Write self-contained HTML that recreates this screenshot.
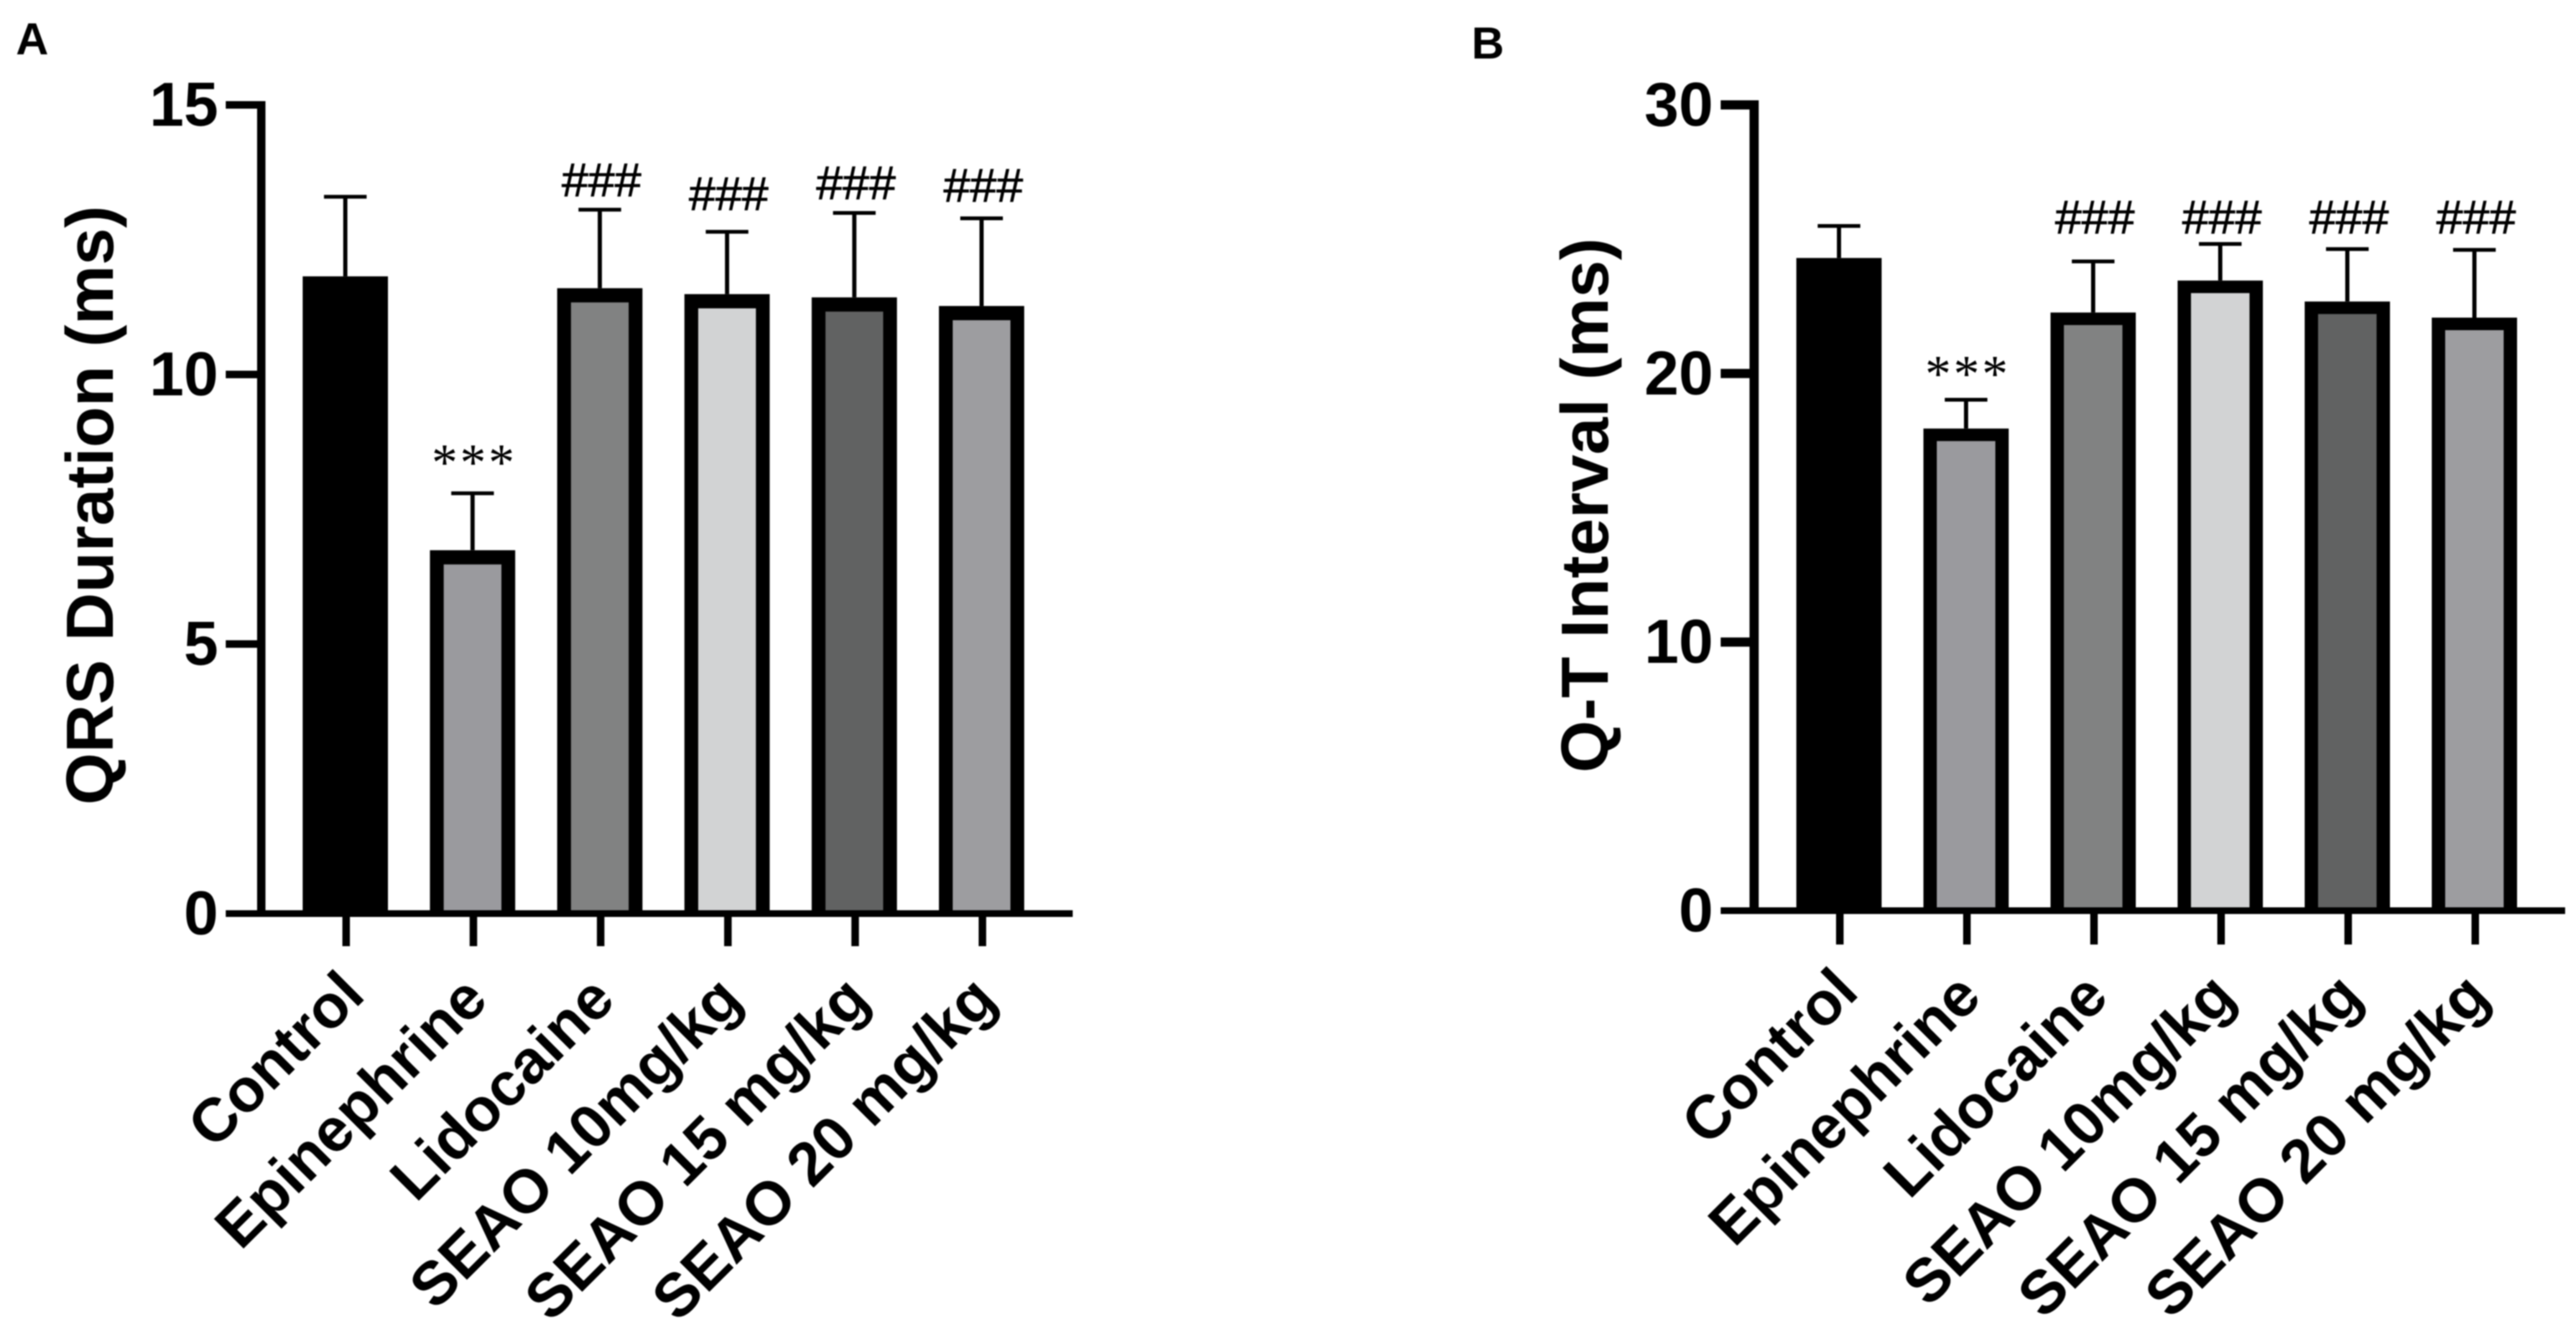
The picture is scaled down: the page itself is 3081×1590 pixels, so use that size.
<!DOCTYPE html>
<html lang="en">
<head>
<meta charset="utf-8">
<title>QRS Duration and Q-T Interval</title>
<style>
  html, body { margin: 0; padding: 0; background: #fff; }
  #figure { display: block; width: 3081px; height: 1590px; filter: blur(0.7px); }
  text { font-family: "Liberation Sans", sans-serif; fill: #000; }
  .tick-label { font-size: 74px; font-weight: 700; text-anchor: end; }
  .axis-title { font-size: 80px; font-weight: 700; text-anchor: middle; }
  .cat-label { font-size: 73px; font-weight: 700; text-anchor: end; }
  .panel-label { font-size: 54px; font-weight: 700; }
  .sig-hash { font-size: 57px; text-anchor: middle; stroke: #000; stroke-width: 0.8px; }
  .sig-star { font-size: 62px; letter-spacing: 3px; text-anchor: middle; font-family: "Liberation Serif", serif; }
</style>
</head>
<body>
<svg id="figure" xmlns="http://www.w3.org/2000/svg" width="3081" height="1590" viewBox="0 0 3081 1590">
  <rect width="3081" height="1590" fill="#fff"/>
  <text class="panel-label" x="19" y="65">A</text>
  <text class="panel-label" x="1760" y="70">B</text>
  <g id="panel-a"></g>
  <g id="panel-b"></g>
</svg>
<script>
const categories = ["Control", "Epinephrine", "Lidocaine", "SEAO 10mg/kg", "SEAO 15 mg/kg", "SEAO 20 mg/kg"];
const significance = ["", "***", "###", "###", "###", "###"];

const qrsMeans = [11.82, 6.74, 11.6, 11.49, 11.43, 11.27];
const qrsErrors = [1.48, 1.06, 1.46, 1.16, 1.57, 1.63];
const qrsSigLevels = [0, 8.05, 13.3, 13.05, 13.25, 13.2];
const qrsTicks = [0, 5, 10, 15];

const qtMeans = [24.3, 17.95, 22.27, 23.46, 22.68, 22.08];
const qtErrors = [1.2, 1.08, 1.91, 1.37, 1.96, 2.53];
const qtSigLevels = [0, 19.34, 25.2, 25.2, 25.2, 25.2];
const qtTicks = [0, 10, 20, 30];

const barFills = ["#000000", "#9a9a9e", "#818282", "#d2d3d4", "#616262", "#9d9da0"];
const NS = "http://www.w3.org/2000/svg";

function make(parent, tag, attrs, content) {
  const el = document.createElementNS(NS, tag);
  for (const key in attrs) el.setAttribute(key, attrs[key]);
  if (content !== undefined) el.textContent = content;
  parent.appendChild(el);
  return el;
}

function drawChart(opts) {
  const root = document.getElementById(opts.id);
  const yMax = opts.ticks[opts.ticks.length - 1];
  const y = v => opts.y0 + (opts.yTop - opts.y0) * (v / yMax);
  const x = i => opts.x0 + i * opts.step;
  const barW = 102;

  opts.means.forEach((mean, i) => {
    const top = y(mean);
    const outer = make(root, "rect", { x: x(i) - barW / 2, y: top, width: barW, height: opts.y0 - top, fill: "#000" });
    
    
    if (i > 0) {
      const inner = make(root, "rect", { x: x(i) - barW / 2 + opts.inset, y: top + opts.insetTop, width: barW - 2 * opts.inset, height: opts.y0 - top - opts.insetTop, fill: barFills[i] });
      
      
    }
    const capY = y(mean + opts.errors[i]);
    const stem = make(root, "rect", { x: x(i) - 2.5, y: capY, width: 5, height: top - capY, fill: "#000" });
    
    
    const cap = make(root, "rect", { x: x(i) - 25.5, y: capY - 2, width: 51, height: 4.5, fill: "#000" });
    
    
    if (significance[i]) {
      const mark = make(root, "text", { x: x(i) + 2, y: y(opts.sigLevels[i]), class: significance[i] === "***" ? "sig-star" : "sig-hash" }, significance[i]);
      
      
    }
    const tick = make(root, "rect", { x: x(i) + 1 - 4.5, y: opts.y0, width: 9, height: opts.tickBottom - opts.y0, fill: "#000" });
    
    
    const lx = x(i) + (i === 0 ? 26 : 21);
    const ly = opts.y0 + (i === 0 ? 100 : 106);
    const label = make(root, "text", { class: "cat-label", x: lx, y: ly, transform: "rotate(-45 " + lx + " " + ly + ")" }, categories[i]);
    
    
  });

  const yAxis = make(root, "rect", { x: opts.axisX - opts.axisW / 2, y: opts.yTop - opts.tickTh / 2, width: opts.axisW, height: opts.y0 - opts.yTop + opts.tickTh / 2, fill: "#000" });
  
  
  const xAxis = make(root, "rect", { x: opts.tickLeft, y: opts.y0 - 4, width: opts.axisRight - opts.tickLeft, height: 8, fill: "#000" });
  
  

  opts.ticks.forEach(t => {
    const ty = y(t);
    if (t !== 0) {
      const mark = make(root, "rect", { x: opts.tickLeft, y: ty - opts.tickTh / 2, width: opts.axisX - opts.tickLeft, height: opts.tickTh, fill: "#000" });
      
      
    }
    const lab = make(root, "text", { class: "tick-label", x: opts.tickLeft - 9, y: ty + 25 }, String(t));
    
    
  });

  const title = make(root, "text", { class: "axis-title", x: 0, y: 0, transform: "translate(" + opts.titleX + " 604.5) rotate(-90)", textLength: opts.titleLen, lengthAdjust: "spacingAndGlyphs" }, opts.title);
  
  
}

drawChart({
  id: "panel-a", title: "QRS Duration (ms)", titleX: 135, titleLen: 717,
  means: qrsMeans, errors: qrsErrors, sigLevels: qrsSigLevels, ticks: qrsTicks,
  x0: 413, step: 152.2, y0: 1093, yTop: 125.5,
  axisX: 312.5, axisW: 10, tickLeft: 270, tickTh: 9, axisRight: 1283, tickBottom: 1132, inset: 16.5, insetTop: 17
});
drawChart({
  id: "panel-b", title: "Q-T Interval (ms)", titleX: 1923, titleLen: 640,
  means: qtMeans, errors: qtErrors, sigLevels: qtSigLevels, ticks: qtTicks,
  x0: 2199.5, step: 152, y0: 1089.5, yTop: 125.5,
  axisX: 2098, axisW: 11, tickLeft: 2058, tickTh: 11, axisRight: 3068, tickBottom: 1130, inset: 16, insetTop: 15
});
</script>
</body>
</html>
